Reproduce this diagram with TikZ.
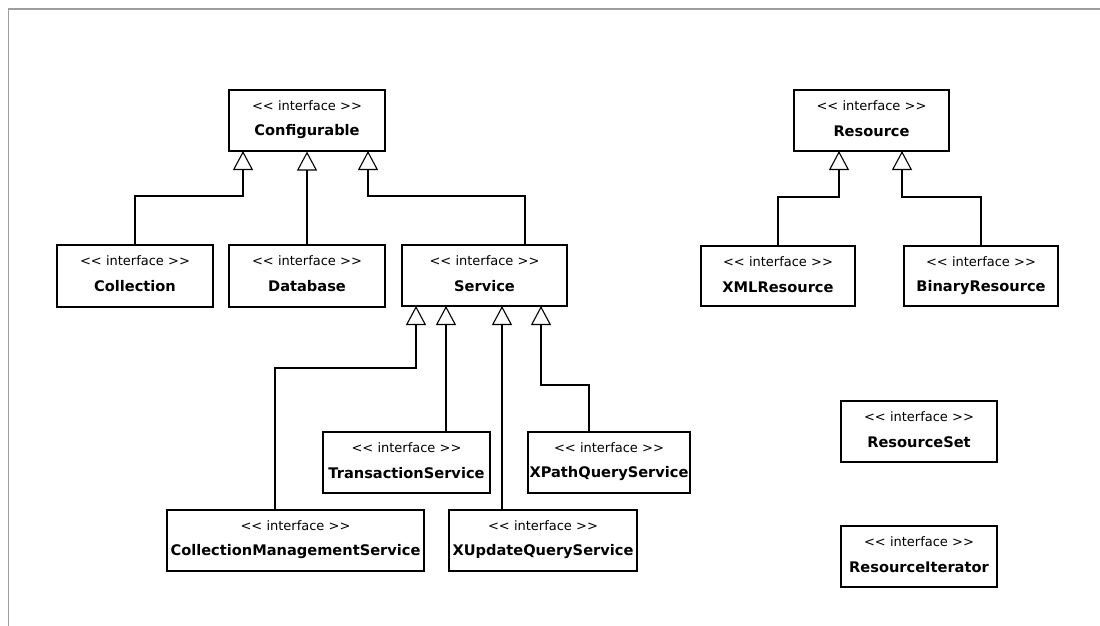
\documentclass[tikz,border=0pt]{standalone}
\usepackage{fontspec}
\newfontfamily\umlfont{DejaVu Sans}
\usetikzlibrary{arrows.meta,calc}

\tikzset{
  ibox/.style={draw=black, line width=1.1pt, fill=white, inner sep=0pt},
  stereo/.style={font=\umlfont\fontsize{13}{15}\selectfont, inner sep=0pt},
  iname/.style={font=\umlfont\bfseries\fontsize{14.6}{17}\selectfont, inner sep=0pt},
  inherit/.style={draw=black, line width=1.1pt,
    -{Triangle[length=19pt,width=20pt,fill=white,line width=1.1pt]}},
  frameline/.style={draw=black!38, line width=1.6pt}
}

% interface box: name, left, top, right, bottom, title
\newcommand\ifacebox[6]{%
  \node[ibox, minimum width={(#4-#2)*1pt}, minimum height={(#5-#3)*1pt}]
    (#1) at ({(#2+#4)/2},{(#3+#5)/2}) {};
  \node[stereo] (#1-st) at ($(#1.north)+(0,16)$) {<< interface >>};
  \node[iname] (#1-nm) at ($(#1.north)+(0,42)$) {#6};
}

\begin{document}
\begin{tikzpicture}[x=1pt, y=-1pt]
  \useasboundingbox (0,0) rectangle (1100,626);
  \fill[white] (0,0) rectangle (1100,626);

  % window frame edges
  \coordinate (fr-tr) at (1100,9);
  \coordinate (fr-tl) at (8.5,9);
  \coordinate (fr-bl) at (8.5,626);
  \draw[frameline] (fr-tr) -- (fr-tl) -- (fr-bl);

  % boxes
  \ifacebox{conf}{229}{90}{385}{151}{Configurable}
  \ifacebox{coll}{57}{245}{213}{307}{Collection}
  \ifacebox{db}{229}{245}{385}{307}{Database}
  \ifacebox{serv}{402}{245}{567}{306}{Service}
  \ifacebox{trans}{323}{432}{490}{493}{TransactionService}
  \ifacebox{xpath}{528}{432}{690}{493}{XPathQueryService}
  \ifacebox{cms}{167}{510}{424}{571}{CollectionManagementService}
  \ifacebox{xupd}{449}{510}{637}{571}{XUpdateQueryService}
  \ifacebox{res}{794}{90}{949}{151}{Resource}
  \ifacebox{xmlr}{701}{246}{855}{306}{XMLResource}
  \ifacebox{binr}{904}{246}{1058}{306}{BinaryResource}
  \ifacebox{rset}{841}{401}{997}{462}{ResourceSet}
  \ifacebox{riter}{841}{526}{997}{587}{ResourceIterator}

  % attachment points
  \coordinate (conf-a) at (243,151);
  \coordinate (conf-c) at (368,151);
  \coordinate (serv-top) at (525,245);
  \coordinate (serv-a) at (416,306);
  \coordinate (serv-b) at (446,306);
  \coordinate (serv-c) at (502,306);
  \coordinate (serv-d) at (541,306);
  \coordinate (cms-top) at (275,510);
  \coordinate (xpath-top) at (589,432);
  \coordinate (res-a) at (839,151);
  \coordinate (res-b) at (902,151);
  \coordinate (k-conf) at (0,196);
  \coordinate (k-res) at (0,197);
  \coordinate (k-cms) at (0,368);
  \coordinate (k-xpath) at (0,385);

  % generalisations
  \draw[inherit] (coll.north) -- (coll.north |- k-conf) -| (conf-a);
  \draw[inherit] (db.north) -- (conf.south);
  \draw[inherit] (serv-top) -- (serv-top |- k-conf) -| (conf-c);

  \draw[inherit] (cms-top) -- (cms-top |- k-cms) -| (serv-a);
  \draw[inherit] (trans.north -| serv-b) -- (serv-b);
  \draw[inherit] (xupd.north -| serv-c) -- (serv-c);
  \draw[inherit] (xpath-top) -- (xpath-top |- k-xpath) -| (serv-d);

  \draw[inherit] (xmlr.north) -- (xmlr.north |- k-res) -| (res-a);
  \draw[inherit] (binr.north) -- (binr.north |- k-res) -| (res-b);
\end{tikzpicture}
\end{document}
